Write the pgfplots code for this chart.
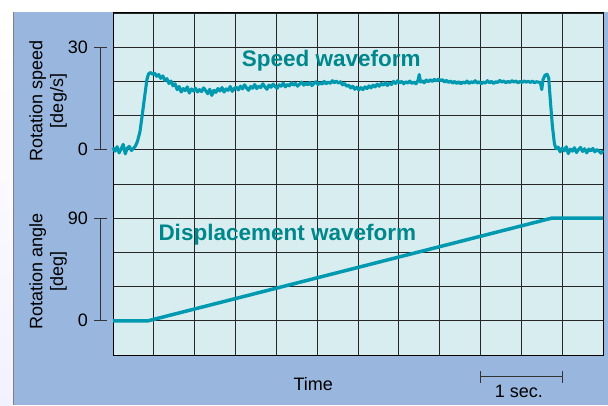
\documentclass[border=0pt]{standalone}
\usepackage{pgfplots}
\pgfplotsset{compat=1.18}
\usepackage{fontspec}
\setmainfont{Liberation Sans}
\definecolor{panel}{HTML}{98B6DE}
\definecolor{plotbg}{HTML}{D7EDF0}
\definecolor{wave}{HTML}{0099AF}
\definecolor{lbl}{HTML}{00878C}
\begin{document}
\begin{tikzpicture}[x=1pt,y=1pt]
\useasboundingbox (0,0) rectangle (608,405);
\fill[white] (0,0) rectangle (608,405);
\shade[top color=white,bottom color=blue!5] (0,0) rectangle (13,393);
\fill[panel] (13,0) rectangle (608,393);
\draw[black!50,line width=0.8pt] (13,0) -- (13,393);
\pgfplotsset{base/.style={width=490pt,height=342pt,scale only axis,at={(113pt,50pt)},anchor=south west,xmin=0,xmax=12}}
% grid
\begin{axis}[base, ymin=0, ymax=10, xtick={0,...,12}, ytick={0,...,10},
  xticklabels={}, yticklabels={}, major tick length=0pt, grid=major,
  major grid style={black!85,line width=0.9pt},
  axis line style={black,line width=1pt},
  axis background/.style={fill=plotbg}]
\end{axis}
% speed
\begin{axis}[base, ymin=-60, ymax=40, hide axis, clip=false]
\addplot[wave, line width=3.1pt, line join=round] table {
0.00 0.6
0.05 -0.4
0.10 0.9
0.15 -0.9
0.20 0.3
0.25 1.6
0.30 -1.2
0.35 0.5
0.40 1.0
0.45 -0.2
0.50 0.4
0.55 1.1
0.60 2.5
0.66 5.3
0.72 10.5
0.78 16.0
0.83 20.5
0.87 22.2
0.92 22.6
0.97 22.1
1.02 22.4
1.07 21.5
1.12 22.0
1.17 20.9
1.22 21.6
1.27 20.3
1.32 20.8
1.37 19.4
1.42 20.1
1.47 18.7
1.52 19.3
1.57 17.6
1.62 18.5
1.67 16.9
1.72 17.9
1.77 17.3
1.82 18.4
1.87 16.6
1.92 17.8
1.97 17.2
2.02 18.0
2.07 16.9
2.12 17.6
2.17 17.0
2.22 18.1
2.27 17.3
2.32 16.4
2.37 17.7
2.42 15.9
2.47 17.4
2.52 16.8
2.57 17.9
2.62 17.2
2.67 18.2
2.72 16.9
2.77 17.8
2.82 17.4
2.87 18.5
2.92 17.1
2.97 17.9
3.02 18.3
3.07 17.5
3.12 18.6
3.17 17.8
3.22 19.0
3.27 18.1
3.32 17.4
3.37 18.5
3.42 18.0
3.47 19.1
3.52 17.9
3.57 18.6
3.62 18.2
3.67 19.3
3.72 18.4
3.77 17.7
3.82 18.9
3.87 18.3
3.92 19.2
3.97 18.5
4.02 18.0
4.07 19.0
4.12 18.6
4.17 19.5
4.22 18.4
4.27 19.1
4.32 18.7
4.37 19.6
4.42 18.9
4.47 19.4
4.52 18.6
4.57 19.2
4.62 19.8
4.67 18.9
4.72 19.5
4.77 19.0
4.82 19.7
4.87 18.8
4.92 19.4
4.97 19.9
5.02 19.1
5.07 19.6
5.12 19.2
5.17 20.0
5.22 19.3
5.27 19.8
5.32 19.4
5.37 20.2
5.42 19.6
5.47 20.1
5.52 19.5
5.57 19.9
5.62 19.0
5.67 19.4
5.72 18.6
5.77 18.9
5.82 18.1
5.87 18.6
5.92 17.7
5.97 18.3
6.02 17.5
6.07 18.2
6.12 17.6
6.17 18.4
6.22 17.9
6.27 18.7
6.32 18.1
6.37 18.9
6.42 18.4
6.47 19.2
6.52 18.6
6.57 19.4
6.62 18.9
6.67 19.6
6.72 18.8
6.77 19.5
6.82 19.1
6.87 20.0
6.92 19.4
6.97 20.2
7.02 19.6
7.07 20.0
7.12 19.3
7.17 19.9
7.22 19.5
7.27 20.1
7.32 19.4
7.37 19.8
7.42 19.3
7.47 20.3
7.50 22.0
7.53 19.8
7.57 20.2
7.62 19.6
7.67 20.4
7.72 19.9
7.77 20.5
7.82 20.0
7.87 20.6
7.92 20.1
7.97 20.7
8.02 20.2
8.07 20.5
8.12 19.8
8.17 20.3
8.22 19.7
8.27 20.1
8.32 19.5
8.37 20.0
8.42 19.4
8.47 19.9
8.52 19.3
8.57 19.8
8.62 19.5
8.67 20.1
8.72 19.4
8.77 19.9
8.82 19.6
8.87 20.2
8.92 19.5
8.97 19.9
9.02 19.3
9.07 19.8
9.12 19.5
9.17 20.2
9.22 19.6
9.27 20.0
9.32 19.4
9.37 19.9
9.42 19.7
9.47 20.3
9.52 19.8
9.57 20.1
9.62 19.6
9.67 20.0
9.72 19.7
9.77 20.2
9.82 19.8
9.87 20.1
9.92 19.6
9.97 20.0
10.02 19.7
10.07 20.1
10.12 19.8
10.17 20.0
10.22 19.7
10.27 20.1
10.32 19.6
10.37 19.9
10.42 19.8
10.47 19.5
10.50 17.6
10.53 20.5
10.58 21.8
10.63 22.1
10.67 21.0
10.71 14.5
10.76 7.0
10.81 1.8
10.85 0.3
10.90 0.8
10.95 -0.6
11.00 0.5
11.05 -0.3
11.10 0.9
11.15 -1.1
11.20 0.2
11.25 -0.4
11.30 0.6
11.35 -0.8
11.40 0.1
11.45 0.7
11.50 -0.5
11.55 0.3
11.60 -0.9
11.65 0.2
11.70 -0.3
11.75 0.4
11.80 -0.6
11.85 0.1
11.90 -0.4
11.95 -1.0
12.00 -0.2
};
\draw[black!80,line width=0.9pt] ([xshift=-19pt]axis cs:0,30) -- ([xshift=-6pt]axis cs:0,30);
\draw[black!80,line width=0.9pt] ([xshift=-19pt]axis cs:0,0) -- ([xshift=-6pt]axis cs:0,0);
\draw[black!80,line width=0.9pt] ([xshift=-13pt]axis cs:0,30) -- ([xshift=-13pt]axis cs:0,0);
\node[anchor=east,inner sep=0pt,font=\fontsize{18}{21}\selectfont] at ([xshift=-25pt]axis cs:0,30) {30};
\node[anchor=east,inner sep=0pt,font=\fontsize{18}{21}\selectfont] at ([xshift=-25pt]axis cs:0,0) {0};
\end{axis}
% angle
\begin{axis}[base, ymin=-30, ymax=270, hide axis, clip=false]
\addplot[wave, line width=3.5pt, line join=round] table {
0 0
0.86 0
10.74 90
12 90
};
\draw[black!80,line width=0.9pt] ([xshift=-19pt]axis cs:0,90) -- ([xshift=-6pt]axis cs:0,90);
\draw[black!80,line width=0.9pt] ([xshift=-19pt]axis cs:0,0) -- ([xshift=-6pt]axis cs:0,0);
\draw[black!80,line width=0.9pt] ([xshift=-13pt]axis cs:0,90) -- ([xshift=-13pt]axis cs:0,0);
\node[anchor=east,inner sep=0pt,font=\fontsize{18}{21}\selectfont] at ([xshift=-25pt]axis cs:0,90) {90};
\node[anchor=east,inner sep=0pt,font=\fontsize{18}{21}\selectfont] at ([xshift=-25pt]axis cs:0,0) {0};
\end{axis}
% labels
\node[rotate=90,anchor=base,inner sep=0pt,font=\fontsize{18}{21}\selectfont] at (42.3,304) {Rotation speed};
\node[rotate=90,anchor=base,inner sep=0pt,font=\fontsize{18}{21}\selectfont] at (63.1,304) {[deg/s]};
\node[rotate=90,anchor=base,inner sep=0pt,font=\fontsize{18}{21}\selectfont] at (42.3,133.3) {Rotation angle};
\node[rotate=90,anchor=base,inner sep=0pt,font=\fontsize{18}{21}\selectfont] at (63.1,133.3) {[deg]};
\node[anchor=base west,inner sep=0pt,text=lbl,font=\fontsize{22.5}{26}\selectfont\bfseries] at (241.7,338.3) {Speed waveform};
\node[anchor=base west,inner sep=0pt,text=lbl,font=\fontsize{22.5}{26}\selectfont\bfseries] at (158.3,165) {Displacement waveform};
\node[anchor=base,inner sep=0pt,font=\fontsize{18}{21}\selectfont] at (313.3,15) {Time};
\node[anchor=base,inner sep=0pt,font=\fontsize{18}{21}\selectfont] at (519,7.7) {1 sec.};
\draw[black!80,line width=0.9pt] (480.5,29) -- (562.2,29);
\draw[black!80,line width=0.9pt] (480.5,22.3) -- (480.5,34.3);
\draw[black!80,line width=0.9pt] (562.2,22.3) -- (562.2,34.3);
\end{tikzpicture}
\end{document}
